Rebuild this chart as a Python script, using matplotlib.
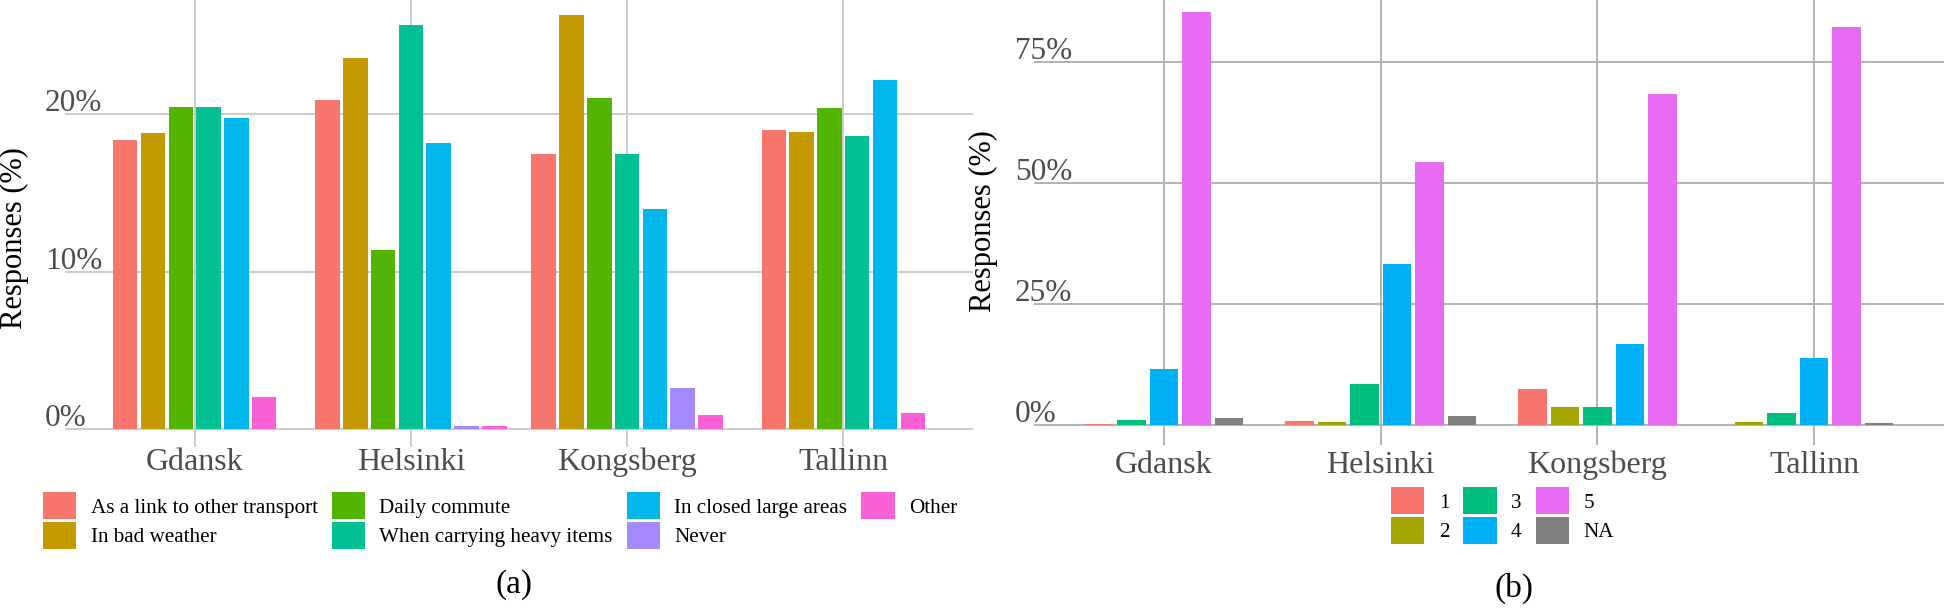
import matplotlib
matplotlib.use("Agg")
import matplotlib.pyplot as plt
import matplotlib.transforms as mtransforms
from matplotlib.patches import Patch

plt.rcParams["font.family"] = ["Liberation Serif", "DejaVu Serif"]

cities = ["Gdansk", "Helsinki", "Kongsberg", "Tallinn"]

# panel (a): usage situations, % of responses (None = category absent)
usage_labels = [
    "As a link to other transport",
    "In bad weather",
    "Daily commute",
    "When carrying heavy items",
    "In closed large areas",
    "Never",
    "Other",
]
usage_colors = ["#F8766D", "#C49A00", "#53B400", "#00C094", "#00B6EB", "#A58AFF", "#FB61D7"]
usage_gdansk = [18.4, 18.8, 20.45, 20.5, 19.8, None, 2.05]
usage_helsinki = [20.9, 23.6, 11.4, 25.7, 18.2, 0.19, 0.19]
usage_kongsberg = [17.5, 26.3, 21.05, 17.5, 14.0, 2.6, 0.9]
usage_tallinn = [19.0, 18.85, 20.4, 18.6, 22.2, None, 1.0]
usage_values = [usage_gdansk, usage_helsinki, usage_kongsberg, usage_tallinn]
usage_ticks = [0, 10, 20]

# panel (b): rating 1-5 and NA, % of responses
rating_labels = ["1", "2", "3", "4", "5", "NA"]
rating_colors = ["#F8766D", "#A3A500", "#00BF7D", "#00B0F6", "#E76BF3", "#7F7F7F"]
rating_gdansk = [0.2, None, 1.0, 11.6, 85.5, 1.5]
rating_helsinki = [0.76, 0.7, 8.5, 33.2, 54.3, 1.9]
rating_kongsberg = [7.4, 3.65, 3.65, 16.7, 68.4, None]
rating_tallinn = [None, 0.55, 2.55, 13.8, 82.2, 0.48]
rating_values = [rating_gdansk, rating_helsinki, rating_kongsberg, rating_tallinn]
rating_ticks = [0, 25, 50, 75]

W, H = 1946, 608
fig = plt.figure(figsize=(W / 100, H / 100), dpi=100)


def px_axes(left, top, right, bottom):
    return fig.add_axes([left / W, 1 - bottom / H, (right - left) / W, (bottom - top) / H])


def draw_panel(ax, values, colors, n_groups, ylim, ticks, grid_color, label_x, label_pad):
    pitch = 0.9 / n_groups
    for ci, city_vals in enumerate(values):
        present = [(k, v) for k, v in enumerate(city_vals) if v is not None]
        n = len(present)
        for i, (k, v) in enumerate(present):
            x = ci + (i - (n - 1) / 2) * pitch
            ax.bar(x, v, width=pitch * 0.88, color=colors[k], linewidth=0, zorder=3)
    ax.set_xlim(-0.6, len(cities) - 0.4)
    ax.set_ylim(*ylim)
    ax.set_xticks(range(len(cities)))
    ax.set_xticklabels(cities, fontsize=23, color="#4D4D4D")
    ax.tick_params(axis="x", length=0, pad=label_pad)
    ax.set_yticks(ticks)
    ax.set_yticklabels([])
    ax.tick_params(axis="y", length=0)
    ax.grid(True, color=grid_color, linewidth=1.4, zorder=0)
    ax.set_axisbelow(True)
    for s in ax.spines.values():
        s.set_visible(False)
    trans = mtransforms.offset_copy(ax.get_yaxis_transform(), fig=fig, y=3, units="dots")
    for t in ticks:
        ax.text(label_x, t, f"{t}%", transform=trans, ha="left", va="baseline",
                fontsize=22.5, color="#4D4D4D", clip_on=False)


def add_legend(labels, colors, ncol, left, top):
    handles = [Patch(facecolor=c, edgecolor="none") for c in colors]
    fig.legend(handles, labels, loc="upper left", bbox_to_anchor=(left / W, 1 - top / H),
               bbox_transform=fig.transFigure, ncol=ncol, frameon=False, borderpad=0,
               borderaxespad=0, handlelength=1.58, handleheight=1.61, handletextpad=0.68,
               columnspacing=0.66, labelspacing=0.12, fontsize=15.2)


# panel (a)
ax_a = px_axes(65, 0, 973, 447)
draw_panel(ax_a, usage_values, usage_colors, 7, (-1.144, 27.27), usage_ticks,
           "#CCCCCC", -20 / 908, 0.5)
fig.text(14 / W, 1 - 238 / H, "Responses (%)", rotation=90, ha="center", va="center", fontsize=22)
add_legend(usage_labels, usage_colors, 4, 43, 492)
fig.text(514 / W, 1 - 585 / H, "(a)", ha="center", va="center", fontsize=24)

# panel (b)
ax_b = px_axes(1034, 0, 1944, 445)
draw_panel(ax_b, rating_values, rating_colors, 6, (-4.14, 87.88), rating_ticks,
           "#B3B3B3", -19 / 910, 4)
fig.text(983 / W, 1 - 221 / H, "Responses (%)", rotation=90, ha="center", va="center", fontsize=22)
add_legend(rating_labels, rating_colors, 3, 1391, 487)
fig.text(1514 / W, 1 - 588 / H, "(b)", ha="center", va="center", fontsize=24)

fig.savefig("out.png", dpi=100)
plt.close(fig)
